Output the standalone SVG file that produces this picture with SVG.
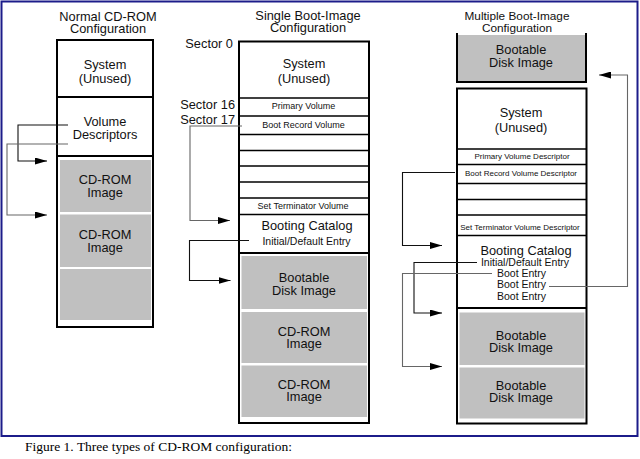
<svg xmlns="http://www.w3.org/2000/svg" width="640" height="459" viewBox="0 0 640 459">
<style>
text{font-family:"Liberation Sans",Arial,sans-serif;fill:#111;text-anchor:middle}
.t{font-size:12.8px}
.s{font-size:9px}
.xs{font-size:8px}
.e{font-size:10.5px}
.box{fill:#fff;stroke:#000;stroke-width:2}
.div{stroke:#000;stroke-width:1.5;fill:none}
.thick{stroke:#000;stroke-width:2;fill:none}
.grey{fill:#c0c0c0;stroke:none}
.c{fill:none;stroke:#111;stroke-width:1.1}
.cg{fill:none;stroke:#666;stroke-width:1.1}
.cap{font-family:"Liberation Serif","Times New Roman",serif;font-size:13.5px;text-anchor:start;fill:#000}
</style>
<defs>
<marker id="ah" markerUnits="userSpaceOnUse" markerWidth="12" markerHeight="7" refX="12" refY="3.5" orient="auto">
<path d="M0,0 L12,3.5 L0,7 z" fill="#000"/>
</marker>
</defs>
<rect x="0" y="0" width="640" height="459" fill="#fff"/>
<rect x="1.5" y="1.5" width="636" height="434.5" fill="none" stroke="#1c1c8a" stroke-width="2"/>

<g id="normal">
<text class="t" x="108" y="20.5">Normal CD-ROM</text>
<text class="t" x="108" y="32.5">Configuration</text>
<rect class="box" x="57" y="40" width="96" height="287"/>
<line class="thick" x1="57" y1="97" x2="153" y2="97"/>
<line class="thick" x1="57" y1="156" x2="153" y2="156"/>
<rect class="grey" x="60" y="160" width="91" height="52"/>
<rect class="grey" x="60" y="214.5" width="91" height="52.5"/>
<rect class="grey" x="60" y="269" width="91" height="51"/>
<text class="t" x="105" y="69">System</text>
<text class="t" x="105" y="82.5">(Unused)</text>
<text class="t" x="105" y="126">Volume</text>
<text class="t" x="105" y="139">Descriptors</text>
<text class="t" x="105" y="184">CD-ROM</text>
<text class="t" x="105" y="196.5">Image</text>
<text class="t" x="105" y="239">CD-ROM</text>
<text class="t" x="105" y="251.5">Image</text>
</g>

<g id="single">
<text class="t" x="308" y="20">Single Boot-Image</text>
<text class="t" x="308" y="32">Configuration</text>
<text class="t" x="233" y="48" style="text-anchor:end">Sector 0</text>
<text class="t" x="235" y="109" style="text-anchor:end">Sector 16</text>
<text class="t" x="235" y="124" style="text-anchor:end">Sector 17</text>
<rect class="box" x="239" y="41.5" width="130" height="381.5"/>
<line class="div" x1="239" y1="98" x2="369" y2="98"/>
<line class="div" x1="239" y1="116" x2="369" y2="116"/>
<line class="div" x1="239" y1="134.5" x2="369" y2="134.5"/>
<line class="div" x1="239" y1="150.5" x2="369" y2="150.5"/>
<line class="div" x1="239" y1="166" x2="369" y2="166"/>
<line class="div" x1="239" y1="182" x2="369" y2="182"/>
<line class="div" x1="239" y1="198" x2="369" y2="198"/>
<line class="div" x1="239" y1="214.5" x2="369" y2="214.5"/>
<line class="thick" x1="239" y1="253" x2="369" y2="253"/>
<rect class="grey" x="241.5" y="256" width="125.5" height="53"/>
<rect class="grey" x="241.5" y="312" width="125.5" height="51"/>
<rect class="grey" x="241.5" y="365.5" width="125.5" height="51.5"/>
<text class="t" x="304" y="68">System</text>
<text class="t" x="304" y="83">(Unused)</text>
<text class="s" x="303.5" y="108.5">Primary Volume</text>
<text class="s" x="303.5" y="127.5">Boot Record Volume</text>
<text class="s" x="303" y="209">Set Terminator Volume</text>
<text class="t" x="307" y="230">Booting Catalog</text>
<text class="e" x="306.5" y="245">Initial/Default Entry</text>
<text class="t" x="304" y="282">Bootable</text>
<text class="t" x="304" y="294.5">Disk Image</text>
<text class="t" x="304" y="336">CD-ROM</text>
<text class="t" x="304" y="348">Image</text>
<text class="t" x="304" y="388.5">CD-ROM</text>
<text class="t" x="304" y="400.5">Image</text>
</g>

<g id="multiple">
<text class="t" x="517" y="19.5" style="font-size:11.8px">Multiple Boot-Image</text>
<text class="t" x="517" y="31.5" style="font-size:11.8px">Configuration</text>
<g id="boot-top">
<rect class="grey" x="457" y="35" width="129" height="46"/>
<path class="thick" d="M457,33 V82 H586 V33"/>
<text class="t" x="521" y="54">Bootable</text>
<text class="t" x="521" y="67">Disk Image</text>
</g>
<rect class="box" x="457" y="88.5" width="129.5" height="335"/>
<line class="div" x1="457" y1="149" x2="586.5" y2="149"/>
<line class="div" x1="457" y1="164.5" x2="586.5" y2="164.5"/>
<line class="div" x1="457" y1="183.5" x2="586.5" y2="183.5"/>
<line class="div" x1="457" y1="199.5" x2="586.5" y2="199.5"/>
<line class="div" x1="457" y1="215" x2="586.5" y2="215"/>
<line class="div" x1="457" y1="235.5" x2="586.5" y2="235.5"/>
<line class="thick" x1="457" y1="308" x2="586.5" y2="308"/>
<rect class="grey" x="459.5" y="312.5" width="125" height="52.5"/>
<rect class="grey" x="459.5" y="367.5" width="125" height="51"/>
<text class="t" x="521" y="117">System</text>
<text class="t" x="521" y="132">(Unused)</text>
<text class="xs" x="522" y="159">Primary Volume Descriptor</text>
<text class="xs" x="521" y="176">Boot Record Volume Descriptor</text>
<text class="xs" x="520" y="229.5">Set Terminator Volume Descriptor</text>
<text class="t" x="526" y="255">Booting Catalog</text>
<text class="e" x="525" y="265.5">Initial/Default Entry</text>
<text class="e" x="521.5" y="277">Boot Entry</text>
<text class="e" x="521.5" y="288">Boot Entry</text>
<text class="e" x="521.5" y="299.5">Boot Entry</text>
<text class="t" x="521" y="339.5">Bootable</text>
<text class="t" x="521" y="352">Disk Image</text>
<text class="t" x="521" y="389.5">Bootable</text>
<text class="t" x="521" y="401.5">Disk Image</text>
</g>

<g id="connectors">
<path class="c" d="M68,125 H18 V161 H47" marker-end="url(#ah)"/>
<path class="cg" d="M68,144 H7 V215 H47" marker-end="url(#ah)"/>
<path class="cg" d="M242,126 H190 V220.5 H230" marker-end="url(#ah)"/>
<path class="c" d="M249,240.5 H189.5 V280.5 H230.5" marker-end="url(#ah)"/>
<path class="c" d="M455,172.5 H402.5 V245.5 H442" marker-end="url(#ah)"/>
<path class="c" d="M477,262.5 H414 V313 H442" marker-end="url(#ah)"/>
<path class="cg" d="M492,273.5 H402.5 V366.5 H442" marker-end="url(#ah)"/>
<path class="cg" d="M549,286.5 H627.5 V75 H599" marker-end="url(#ah)"/>
</g>

<text class="cap" x="25" y="451">Figure 1. Three types of CD-ROM configuration:</text>
</svg>
